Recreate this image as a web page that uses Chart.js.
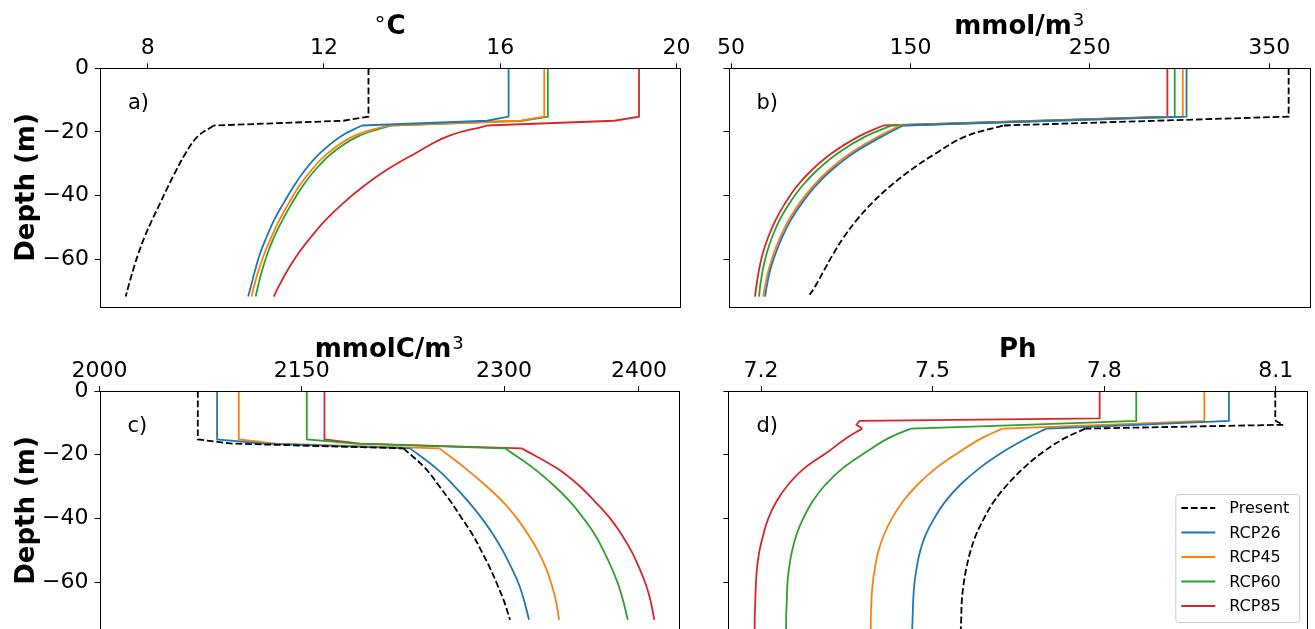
<!DOCTYPE html>
<html>
<head>
<meta charset="utf-8">
<script src="https://cdn.jsdelivr.net/npm/chart.js@4.4.1/dist/chart.umd.min.js"></script>
<style>
  html, body { margin: 0; padding: 0; background: #fff; overflow: hidden; width: 1315px; height: 629px; }
  canvas { position: absolute; }
</style>
</head>
<body>
<canvas id="panelA" width="700" height="320" style="left:0;top:0"></canvas>
<canvas id="panelB" width="615" height="320" style="left:700px;top:0"></canvas>
<canvas id="panelC" width="700" height="340" style="left:0;top:320px"></canvas>
<canvas id="panelD" width="615" height="340" style="left:700px;top:320px"></canvas>
<script>
// ---- series ----
const seriesNames  = ['Present', 'RCP26', 'RCP45', 'RCP60', 'RCP85'];
const seriesColors = ['#000000', '#1f77b4', '#ff7f0e', '#2ca02c', '#d62728'];

// ---- a) temperature (°C) ----
const depthA = [0, -15.2, -16.5, -18, -21.5, -26.7, -32, -37.2, -42.5, -47.7, -53, -58.2, -63.4, -68.7, -71.8];
const tempPresent = [13.01, 13.01, 12.44, 9.50, 9.13, 8.86, 8.65, 8.46, 8.28, 8.10, 7.93, 7.79, 7.67, 7.56, 7.50];
const tempRcp26   = [16.19, 16.19, 15.70, 12.86, 12.37, 11.91, 11.57, 11.31, 11.08, 10.87, 10.70, 10.55, 10.44, 10.34, 10.28];
const tempRcp45   = [17.00, 17.00, 16.46, 13.43, 12.65, 12.09, 11.72, 11.43, 11.20, 10.99, 10.81, 10.65, 10.52, 10.41, 10.36];
const tempRcp60   = [17.08, 17.08, 16.50, 13.52, 12.76, 12.18, 11.80, 11.51, 11.27, 11.06, 10.87, 10.72, 10.60, 10.50, 10.45];
const tempRcp85   = [19.15, 19.15, 18.59, 15.70, 14.79, 14.08, 13.42, 12.89, 12.43, 12.04, 11.71, 11.42, 11.18, 10.97, 10.86];

// ---- b) nitrate (mmol/m3) ----
const depthB = [0, -15.2, -18, -21.5, -26.7, -32, -37.2, -42.5, -47.7, -53, -58.2, -63.4, -68.7, -71.8];
const no3Present = [360.8, 360.8, 201.5, 180.4, 164.3, 150.2, 138.5, 128.4, 120.1, 113.0, 107.2, 102.0, 96.8, 93.1];
const no3Rcp26   = [303.9, 303.9, 146.0, 134.0, 118.2, 106.1, 96.8, 89.4, 83.4, 78.6, 74.9, 71.9, 69.9, 69.0];
const no3Rcp45   = [301.8, 301.8, 144.2, 132.1, 116.5, 104.6, 95.5, 88.1, 82.2, 77.5, 73.8, 71.0, 68.9, 68.0];
const no3Rcp60   = [297.3, 297.3, 139.6, 124.7, 109.5, 98.1, 89.4, 82.5, 77.1, 73.0, 69.9, 67.7, 66.2, 65.6];
const no3Rcp85   = [293.2, 293.2, 134.9, 121.0, 106.1, 95.0, 86.6, 80.1, 74.9, 70.8, 67.7, 65.6, 64.1, 63.4];

// ---- c) dissolved inorganic carbon (mmolC/m3) ----
const depthC = [0, -15.2, -16.5, -18, -24.2, -29.5, -34.7, -39.9, -45.1, -50.4, -55.6, -60.8, -66, -71.8];
const dicPresent = [2072.9, 2072.9, 2098, 2225.4, 2241.5, 2251.3, 2260.4, 2268.6, 2276.7, 2283.4, 2289.6, 2295.0, 2300.0, 2304.4];
const dicRcp26   = [2087.2, 2087.2, 2122, 2230.3, 2249.5, 2262.4, 2273.5, 2283.4, 2292.0, 2299.4, 2305.6, 2311.1, 2315.0, 2318.5];
const dicRcp45   = [2103.3, 2103.3, 2131, 2252.0, 2271.1, 2285.9, 2299.0, 2309.4, 2318.0, 2325.4, 2331.1, 2335.3, 2338.5, 2340.8];
const dicRcp60   = [2153.7, 2153.7, 2190, 2300.7, 2321.7, 2336.5, 2348.9, 2358.8, 2367.4, 2374.1, 2379.8, 2384.7, 2388.4, 2391.7];
const dicRcp85   = [2166.8, 2166.8, 2193, 2313.1, 2339.0, 2355.1, 2367.4, 2378.5, 2387.2, 2394.6, 2400.3, 2405.2, 2408.7, 2411.4];

// ---- d) pH ----
const depthD = [0, -8.6, -9.4, -10.6, -11.8, -14.8, -19, -24.2, -29.5, -34.7, -39.9, -45.1, -50.4, -55.6, -60.8, -66, -71.3, -76];
const phPresent = [8.099, 8.099, 8.100, 8.113, 7.767, 7.731, 7.694, 7.659, 7.630, 7.607, 7.590, 7.576, 7.566, 7.559, 7.554, 7.551, 7.550, 7.549];
const phRcp26   = [8.018, 8.018, 8.018, 7.858, 7.699, 7.665, 7.624, 7.582, 7.548, 7.522, 7.503, 7.488, 7.478, 7.472, 7.468, 7.466, 7.465, 7.464];
const phRcp45   = [7.975, 7.975, 7.975, 7.800, 7.622, 7.586, 7.548, 7.506, 7.473, 7.448, 7.429, 7.415, 7.405, 7.399, 7.395, 7.393, 7.392, 7.392];
const phRcp60   = [7.856, 7.856, 7.856, 7.660, 7.462, 7.423, 7.385, 7.343, 7.312, 7.290, 7.274, 7.262, 7.254, 7.249, 7.246, 7.245, 7.244, 7.244];
const phRcp85   = [7.792, 7.792, 7.372, 7.367, 7.377, 7.349, 7.318, 7.276, 7.247, 7.227, 7.213, 7.204, 7.197, 7.193, 7.191, 7.190, 7.189, 7.189];

// ---- ticks ----
const depthTicks      = [0, -20, -40, -60];
const depthTickLabels = ['0', '\u221220', '\u221240', '\u221260'];
const tempTicks  = [8, 12, 16, 20];          const tempTickLabels = ['8', '12', '16', '20'];
const no3Ticks   = [50, 150, 250, 350];      const no3TickLabels  = ['50', '150', '250', '350'];
const dicTicks   = [2000, 2150, 2300, 2400]; const dicTickLabels  = ['2000', '2150', '2300', '2400'];
const phTicks    = [7.2, 7.5, 7.8, 8.1];     const phTickLabels   = ['7.2', '7.5', '7.8', '8.1'];

Chart.defaults.font.family = '"DejaVu Sans", sans-serif';
Chart.defaults.color = '#000';

const FONT = '"DejaVu Sans", sans-serif';
const LINE_WIDTH = 1.8;

function profile(depths, values) {
  return depths.map((d, i) => ({ x: values[i], y: d }));
}

// Spines, panel title (with superscripts), panel letter and the in-axes legend.
const panelDecor = {
  id: 'panelDecor',
  afterDatasetsDraw(chart, args, o) {
    const { ctx, chartArea: a } = chart;
    ctx.save();

    // frame
    const l = Math.round(a.left) + 0.5, t = Math.round(a.top) + 0.5;
    const r = Math.round(a.right) + 0.5, b = Math.round(a.bottom) + 0.5;
    ctx.strokeStyle = '#000';
    ctx.lineWidth = 1;
    ctx.setLineDash([]);
    ctx.strokeRect(l, t, r - l, b - t);

    // panel letter
    ctx.fillStyle = '#000';
    ctx.textAlign = 'left';
    ctx.textBaseline = 'alphabetic';
    ctx.font = '21px ' + FONT;
    ctx.fillText(o.letter, a.left + 28, a.top + 40.5);

    // title
    const parts = o.title;
    let total = 0;
    parts.forEach(p => {
      ctx.font = (p.bold ? 'bold ' : '') + p.size + 'px ' + FONT;
      p.w = ctx.measureText(p.text).width;
      total += p.w + (p.gap || 0);
    });
    let x = (a.left + a.right) / 2 - total / 2;
    const base = a.top - 34.5;
    parts.forEach(p => {
      ctx.font = (p.bold ? 'bold ' : '') + p.size + 'px ' + FONT;
      ctx.fillText(p.text, x, base + (p.dy || 0));
      x += p.w + (p.gap || 0);
    });

    // legend
    if (o.legend) {
      const items = chart.data.datasets.filter(ds => ds.legendItem);
      const w = 124, h = 128;
      const x0 = a.right - 8 - w, y0 = a.bottom - 8 - h;
      ctx.beginPath();
      ctx.roundRect(x0 + 0.5, y0 + 0.5, w, h, 3);
      ctx.fillStyle = 'rgba(255,255,255,0.8)';
      ctx.fill();
      ctx.strokeStyle = '#cccccc';
      ctx.lineWidth = 1;
      ctx.stroke();
      ctx.font = '16px ' + FONT;
      ctx.textBaseline = 'middle';
      items.forEach((ds, i) => {
        const cy = y0 + 14 + i * 24.5;
        ctx.beginPath();
        ctx.strokeStyle = ds.borderColor;
        ctx.lineWidth = ds.borderWidth;
        ctx.setLineDash(ds.borderDash || []);
        ctx.moveTo(x0 + 6, cy);
        ctx.lineTo(x0 + 40, cy);
        ctx.stroke();
        ctx.setLineDash([]);
        ctx.fillStyle = '#000';
        ctx.fillText(ds.label, x0 + 54, cy + 1);
      });
    }
    ctx.restore();
  }
};

function drawPanel(id, cfg) {
  // Each profile: straight mixed layer + thermocline, then a smooth deep curve.
  const datasets = [];
  cfg.series.forEach((vals, i) => {
    const pts = profile(cfg.depths, vals);
    const common = {
      label: seriesNames[i],
      borderColor: seriesColors[i],
      backgroundColor: seriesColors[i],
      borderWidth: LINE_WIDTH,
      borderDash: i === 0 ? [6.7, 2.9] : [],
      pointRadius: 0,
      pointHoverRadius: 0,
      fill: false
    };
    datasets.push(Object.assign({}, common, {
      data: pts.slice(0, cfg.corner + 1), tension: 0, legendItem: true
    }));
    datasets.push(Object.assign({}, common, {
      data: pts.slice(cfg.corner), tension: 0.4, legendItem: false
    }));
  });

  return new Chart(document.getElementById(id), {
    type: 'line',
    data: { datasets },
    options: {
      indexAxis: 'y',
      responsive: false,
      animation: false,
      events: [],
      layout: { padding: cfg.padding },
      plugins: {
        legend: { display: false },
        tooltip: { enabled: false },
        panelDecor: { title: cfg.title, letter: cfg.letter, legend: !!cfg.legend }
      },
      scales: {
        x: {
          type: 'linear',
          position: 'top',
          min: cfg.xMin,
          max: cfg.xMax,
          afterBuildTicks: s => { s.ticks = cfg.xTicks.map(v => ({ value: v })); },
          afterFit: s => { s.height = 40; s.paddingLeft = 0; s.paddingRight = 0; },
          ticks: {
            font: { size: 22 }, color: '#000', padding: 2,
            maxRotation: 0, autoSkip: false,
            callback: (v, i) => cfg.xLabels[i]
          },
          grid: { drawOnChartArea: false, drawTicks: true, tickLength: 5, color: '#000', lineWidth: 1 },
          border: { display: false }
        },
        y: {
          type: 'linear',
          position: 'left',
          min: -75,
          max: 0,
          afterBuildTicks: s => { s.ticks = depthTicks.map(v => ({ value: v })); },
          afterFit: s => { s.width = cfg.yWidth; s.paddingTop = 0; s.paddingBottom = 0; },
          ticks: {
            display: cfg.yLabels, font: { size: 22 }, color: '#000', padding: 6,
            autoSkip: false,
            callback: (v, i) => depthTickLabels[i]
          },
          title: {
            display: cfg.yLabels, text: 'Depth (m)', color: '#000',
            font: { size: 26, weight: 'bold' }, padding: { top: 12, bottom: 0 }
          },
          grid: { drawOnChartArea: false, drawTicks: true, tickLength: 5, color: '#000', lineWidth: 1 },
          border: { display: false }
        }
      }
    },
    plugins: [panelDecor]
  });
}

drawPanel('panelA', {
  depths: depthA, corner: 3,
  series: [tempPresent, tempRcp26, tempRcp45, tempRcp60, tempRcp85],
  xMin: 6.917, xMax: 20.08, xTicks: tempTicks, xLabels: tempTickLabels,
  yLabels: true, yWidth: 100,
  padding: { left: 0, top: 28.3, right: 20, bottom: 13.3 },
  letter: 'a)',
  title: [
    { text: '\u00b0', size: 22, bold: false, dy: -2, gap: 1 },
    { text: 'C', size: 26, bold: true }
  ]
});

drawPanel('panelB', {
  depths: depthB, corner: 2,
  series: [no3Present, no3Rcp26, no3Rcp45, no3Rcp60, no3Rcp85],
  xMin: 48.6, xMax: 372.7, xTicks: no3Ticks, xLabels: no3TickLabels,
  yLabels: false, yWidth: 28.5,
  padding: { left: 0, top: 28.3, right: 5, bottom: 13.3 },
  letter: 'b)',
  title: [
    { text: 'mmol/m', size: 26, bold: true, gap: 1 },
    { text: '3', size: 18, bold: false, dy: -8 }
  ]
});

drawPanel('panelC', {
  depths: depthC, corner: 3,
  series: [dicPresent, dicRcp26, dicRcp45, dicRcp60, dicRcp85],
  xMin: 2000, xMax: 2429.7, xTicks: dicTicks, xLabels: dicTickLabels,
  yLabels: true, yWidth: 99.5,
  padding: { left: 0, top: 31, right: 21, bottom: 30 },
  letter: 'c)',
  title: [
    { text: 'mmolC/m', size: 26, bold: true, gap: 1 },
    { text: '3', size: 18, bold: false, dy: -8 }
  ]
});

drawPanel('panelD', {
  depths: depthD, corner: 4,
  series: [phPresent, phRcp26, phRcp45, phRcp60, phRcp85],
  xMin: 7.143, xMax: 8.155, xTicks: phTicks, xLabels: phTickLabels,
  yLabels: false, yWidth: 28.4,
  padding: { left: 0, top: 31, right: 7.7, bottom: 30 },
  letter: 'd)',
  legend: true,
  title: [
    { text: 'Ph', size: 26, bold: true }
  ]
});
</script>
</body>
</html>
